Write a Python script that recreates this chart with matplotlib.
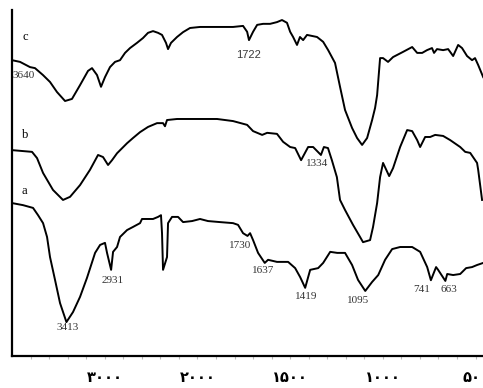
import numpy as np
import matplotlib
matplotlib.use("Agg")
import matplotlib.pyplot as plt
from matplotlib.ticker import FixedLocator

# FTIR spectra: wavenumber (cm-1) and transmittance (a.u., traces offset)
wn_c = [4000, 3913, 3806, 3752, 3666, 3590, 3515, 3428, 3353, 3266, 3180, 3137,
        3083, 3040, 2997, 2943, 2889, 2835, 2781, 2727, 2652, 2587, 2533, 2479,
        2425, 2382, 2339, 2317, 2285, 2220, 2155, 2080, 1986, 1894, 1808, 1754,
        1732, 1722, 1700, 1678, 1646, 1608, 1571, 1544, 1517, 1500, 1484, 1463,
        1447, 1430, 1409, 1382, 1355, 1322, 1295, 1258, 1231, 1204, 1166, 1139,
        1112, 1085, 1058, 1042, 1031, 1015, 999, 972, 945, 891, 842, 815, 788,
        762, 735, 724, 708, 675, 648, 621, 594, 573, 546, 519, 503, 486, 459]
t_c = [85.5, 85.0, 83.5, 83.2, 81.2, 79.2, 76.3, 73.7, 74.3, 78.3, 82.4, 83.2,
       81.2, 77.8, 80.6, 83.5, 85.0, 85.5, 87.6, 89.0, 90.5, 91.9, 93.4, 93.9,
       93.4, 92.8, 90.5, 88.7, 90.5, 92.2, 93.6, 94.8, 95.1, 95.1, 95.1, 95.4,
       93.7, 91.3, 93.7, 95.7, 96.0, 96.0, 96.5, 97.1, 96.3, 93.7, 92.2, 89.9,
       92.2, 91.3, 92.8, 92.5, 92.2, 90.8, 88.4, 84.7, 77.8, 71.1, 65.9, 63.0,
       61.0, 63.0, 68.2, 71.7, 75.4, 86.1, 86.1, 85.0, 86.4, 87.9, 89.3, 87.6,
       87.6, 88.4, 89.0, 87.6, 88.7, 88.4, 88.7, 86.7, 89.9, 89.0, 86.7, 85.5,
       86.1, 84.1, 80.6]

wn_b = [4000, 3784, 3730, 3665, 3558, 3450, 3374, 3266, 3159, 3072, 3018, 2964,
        2921, 2867, 2759, 2695, 2619, 2533, 2436, 2371, 2350, 2328, 2220, 2080,
        1986, 1894, 1808, 1732, 1700, 1651, 1624, 1571, 1538, 1500, 1473, 1441,
        1403, 1376, 1334, 1318, 1296, 1275, 1248, 1231, 1204, 1161, 1123, 1107,
        1069, 1053, 1031, 1015, 999, 966, 945, 907, 869, 842, 815, 799, 772, 745,
        718, 675, 637, 583, 556, 529, 492, 486, 465]
t_b = [59.5, 59.0, 57.2, 52.9, 48.0, 45.1, 46.0, 49.4, 53.8, 58.1, 57.5, 55.2,
       56.6, 58.6, 61.5, 63.0, 64.7, 66.2, 67.3, 67.3, 66.4, 68.2, 68.5, 68.5,
       68.5, 68.5, 67.9, 66.8, 65.0, 63.9, 64.5, 64.2, 61.9, 60.4, 60.1, 56.6,
       60.4, 60.4, 58.1, 60.4, 60.1, 56.6, 51.7, 45.1, 42.2, 37.9, 34.4, 32.9,
       33.5, 37.3, 44.2, 51.7, 55.8, 52.0, 54.3, 60.4, 65.3, 65.0, 62.4, 60.4,
       63.3, 63.3, 63.9, 63.6, 62.4, 60.4, 59.0, 58.7, 55.8, 53.8, 45.1]

wn_a = [4000, 3881, 3773, 3719, 3665, 3622, 3590, 3536, 3482, 3428, 3413, 3342,
        3266, 3191, 3104, 3050, 2997, 2975, 2931, 2910, 2867, 2835, 2759, 2695,
        2619, 2598, 2479, 2425, 2393, 2382, 2371, 2328, 2317, 2274, 2209, 2155,
        2058, 1986, 1943, 1878, 1808, 1781, 1754, 1730, 1716, 1700, 1673, 1637,
        1619, 1571, 1511, 1473, 1446, 1419, 1392, 1349, 1322, 1284, 1246, 1204,
        1166, 1134, 1095, 1058, 1025, 988, 950, 907, 842, 799, 761, 741, 713, 702,
        663, 653, 621, 583, 551, 519, 492, 459]
t_a = [44.2, 43.6, 42.8, 40.7, 38.4, 34.4, 28.6, 22.0, 15.3, 11.0, 9.8, 12.7,
       17.1, 22.6, 29.8, 32.1, 32.7, 29.8, 24.9, 30.1, 31.5, 34.4, 36.4, 37.3,
       38.4, 39.6, 39.6, 40.2, 40.7, 35.5, 24.9, 28.6, 38.4, 40.2, 40.2, 38.7,
       39.0, 39.6, 39.0, 38.7, 38.4, 37.9, 35.5, 34.7, 35.5, 33.5, 29.8, 26.9,
       27.8, 27.2, 27.2, 25.4, 22.8, 19.7, 24.9, 25.4, 26.9, 30.1, 29.8, 29.8,
       26.3, 22.0, 18.8, 21.4, 23.4, 27.8, 30.9, 31.5, 31.5, 30.1, 25.7, 21.9,
       25.7, 24.9, 21.7, 23.7, 23.4, 23.7, 25.4, 25.7, 26.3, 26.9]

tick_wn = [3000, 2000, 1500, 1000, 500]
tick_lbl = ['۳۰۰۰', '۲۰۰۰', '۱۵۰۰', '۱۰۰۰', '۵۰۰']

# peak labels: text, x (cm-1), y
peaks_a = [('3413', 3396, 8.1), ('2931', 2910, 21.7), ('1730', 1770, 31.8),
           ('1637', 1646, 24.6), ('1419', 1414, 17.1), ('1095', 1133, 15.9),
           ('741', 789, 19.1), ('663', 642, 19.1)]


# scale break at 2000 cm-1: region below is stretched two-fold
def fwd(w):
    w = np.asarray(w, dtype=float)
    return np.where(w >= 2000, (w - 2000) / 1000.0, (w - 2000) / 500.0)


def inv(p):
    p = np.asarray(p, dtype=float)
    return np.where(p >= 0, 2000 + 1000.0 * p, 2000 + 500.0 * p)


fig = plt.figure(figsize=(4.83, 3.88), dpi=100)
ax = fig.add_axes([12 / 483, 32 / 388, 1 - 12 / 483, 346 / 388])
ax.set_xscale('function', functions=(fwd, inv))

for wn, t in [(wn_c, t_c), (wn_b, t_b), (wn_a, t_a)]:
    ax.plot(wn, t, color='black', lw=1.4, solid_joinstyle='round')

ax.set_xlim(4000, 460)
ax.set_ylim(0, 100)

serif = 'Liberation Serif'
ax.text(3860, 92.2, 'c', family=serif, fontsize=9, ha='center', va='center')
ax.text(3860, 63.9, 'b', family=serif, fontsize=9, ha='center', va='center')
ax.text(3870, 47.7, 'a', family=serif, fontsize=9, ha='center', va='center')
ax.text(3990, 81.2, '3640', family=serif, fontsize=8, ha='left', va='center',
        color='#333333')
ax.text(1722, 87.0, '1722', family='Liberation Sans', fontsize=8, ha='center',
        va='center', color='#3a3a3a')
ax.text(1355, 55.5, '1334', family=serif, fontsize=8, ha='center', va='center',
        color='#333333')
for s, x, y in peaks_a:
    ax.text(x, y, s, family=serif, fontsize=8, ha='center', va='center',
            color='#333333')

for side in ['top', 'right']:
    ax.spines[side].set_visible(False)
ax.spines['left'].set_linewidth(1.6)
ax.spines['bottom'].set_linewidth(1.6)

ax.set_yticks([])
ax.set_xticks(tick_wn)
ax.set_xticklabels(tick_lbl, fontweight='bold', fontsize=10.5, family='DejaVu Sans')
ax.xaxis.set_minor_locator(FixedLocator(
    list(range(3800, 2000, -200)) + list(range(1900, 400, -100))))
ax.tick_params(axis='x', which='major', length=2, width=0.8, color='#bbbbbb',
               pad=8)
ax.tick_params(axis='x', which='minor', length=2, width=0.8, color='#bbbbbb')

fig.savefig('out.png', dpi=100)
